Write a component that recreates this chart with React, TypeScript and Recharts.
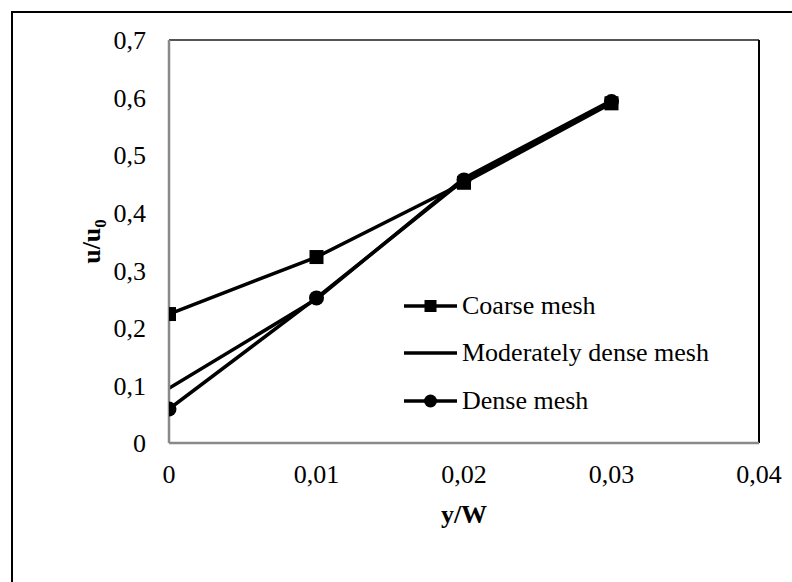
import React from 'react';
import { LineChart, Line, XAxis, YAxis, ReferenceLine, Legend } from 'recharts';

const xValues = [0, 0.01, 0.02, 0.03];
const coarseMesh = [0.224, 0.323, 0.452, 0.59];
const moderateMesh = [0.095, 0.25, 0.46, 0.595];
const denseMesh = [0.059, 0.252, 0.457, 0.593];
const xTicks = [0, 0.01, 0.02, 0.03, 0.04];
const yTicks = [0, 0.1, 0.2, 0.3, 0.4, 0.5, 0.6, 0.7];
const seriesNames = ['Coarse mesh', 'Moderately dense mesh', 'Dense mesh'];

const data = xValues.map((x, i) => ({
  x,
  coarse: coarseMesh[i],
  moderate: moderateMesh[i],
  dense: denseMesh[i],
}));

const FONT = '"Liberation Serif", "Times New Roman", serif';
const fmt = (v: number) => String(v).replace('.', ',');

const SquareDot = (props: any) => {
  const { cx, cy } = props;
  if (cx == null || cy == null) return null;
  return <rect x={cx - 7} y={cy - 7} width={14} height={14} fill="#000" />;
};
const CircleDot = (props: any) => {
  const { cx, cy } = props;
  if (cx == null || cy == null) return null;
  return <circle cx={cx} cy={cy} r={7.5} fill="#000" />;
};

const LegendContent = () => {
  const rows = [
    { name: seriesNames[0], marker: 'square' },
    { name: seriesNames[1], marker: 'none' },
    { name: seriesNames[2], marker: 'circle' },
  ];
  return (
    <div style={{ fontFamily: FONT, fontSize: 26, color: '#000' }}>
      {rows.map((r) => (
        <div key={r.name} style={{ display: 'flex', alignItems: 'center', height: 47.5 }}>
          <svg width={58} height={20} style={{ display: 'block' }}>
            <line x1={0} y1={10} x2={53} y2={10} stroke="#000" strokeWidth={3.5} />
            {r.marker === 'square' && <rect x={20.5} y={4} width={12} height={12} fill="#000" />}
            {r.marker === 'circle' && <circle cx={26.5} cy={10} r={6.5} fill="#000" />}
          </svg>
          <span style={{ lineHeight: '26px', whiteSpace: 'nowrap' }}>{r.name}</span>
        </div>
      ))}
    </div>
  );
};

const YLabel = (props: any) => {
  const vb = props.viewBox || {};
  const x = (vb.x ?? 109) + (vb.width ?? 120) - 69;
  const y = (vb.y ?? 40) + (vb.height ?? 403) / 2;
  return (
    <text
      x={x}
      y={y}
      transform={`rotate(-90, ${x}, ${y})`}
      textAnchor="middle"
      fontFamily={FONT}
      fontSize={26}
      fontWeight="bold"
      fill="#000"
    >
      u/u<tspan fontSize={17} dy={6}>0</tspan>
    </text>
  );
};

const XLabel = (props: any) => {
  const vb = props.viewBox || {};
  const x = (vb.x ?? 169) + (vb.width ?? 590) / 2;
  return (
    <text
      x={x}
      y={523}
      textAnchor="middle"
      fontFamily={FONT}
      fontSize={26}
      fontWeight="bold"
      fill="#000"
    >
      y/W
    </text>
  );
};

export default function App() {
  return (
    <div
      style={{
        position: 'absolute',
        left: 0,
        top: 0,
        width: 792,
        height: 582,
        overflow: 'hidden',
        background: '#fff',
      }}
    >
      <div
        style={{
          position: 'absolute',
          left: 11,
          top: 11,
          width: 900,
          height: 700,
          border: '2px solid #000',
          boxSizing: 'border-box',
        }}
      />
      <div style={{ position: 'absolute', left: 0, top: 0 }}>
        <LineChart
          width={792}
          height={582}
          data={data}
          margin={{ top: 40, right: 33, bottom: 99, left: 49 }}
        >
          <XAxis
            dataKey="x"
            type="number"
            domain={[0, 0.04]}
            ticks={xTicks}
            tickFormatter={fmt}
            tickLine={false}
            tickSize={0}
            tickMargin={22}
            height={40}
            axisLine={{ stroke: '#898989', strokeWidth: 2.5 }}
            tick={{ fill: '#000', fontFamily: FONT, fontSize: 26 }}
            interval={0}
            allowDataOverflow
            label={<XLabel />}
          />
          <YAxis
            type="number"
            domain={[0, 0.7]}
            ticks={yTicks}
            tickFormatter={fmt}
            tickLine={false}
            tickSize={0}
            tickMargin={23}
            width={120}
            axisLine={{ stroke: '#898989', strokeWidth: 2.5 }}
            tick={{ fill: '#000', fontFamily: FONT, fontSize: 26 }}
            interval={0}
            allowDataOverflow
            label={<YLabel />}
          />
          <ReferenceLine y={0.7} stroke="#555" strokeWidth={2} ifOverflow="extendDomain" />
          <ReferenceLine x={0.04} stroke="#000" strokeWidth={2} ifOverflow="extendDomain" />
          <Legend
            layout="horizontal"
            verticalAlign="middle"
            align="center"
            content={<LegendContent />}
            wrapperStyle={{ position: 'absolute', left: 404, top: 282, width: 360 }}
          />
          <Line
            dataKey="coarse"
            name={seriesNames[0]}
            stroke="#000"
            strokeWidth={3.5}
            dot={<SquareDot />}
            isAnimationActive={false}
          />
          <Line
            dataKey="moderate"
            name={seriesNames[1]}
            stroke="#000"
            strokeWidth={3.5}
            dot={false}
            isAnimationActive={false}
          />
          <Line
            dataKey="dense"
            name={seriesNames[2]}
            stroke="#000"
            strokeWidth={3.5}
            dot={<CircleDot />}
            isAnimationActive={false}
          />
        </LineChart>
      </div>
    </div>
  );
}
